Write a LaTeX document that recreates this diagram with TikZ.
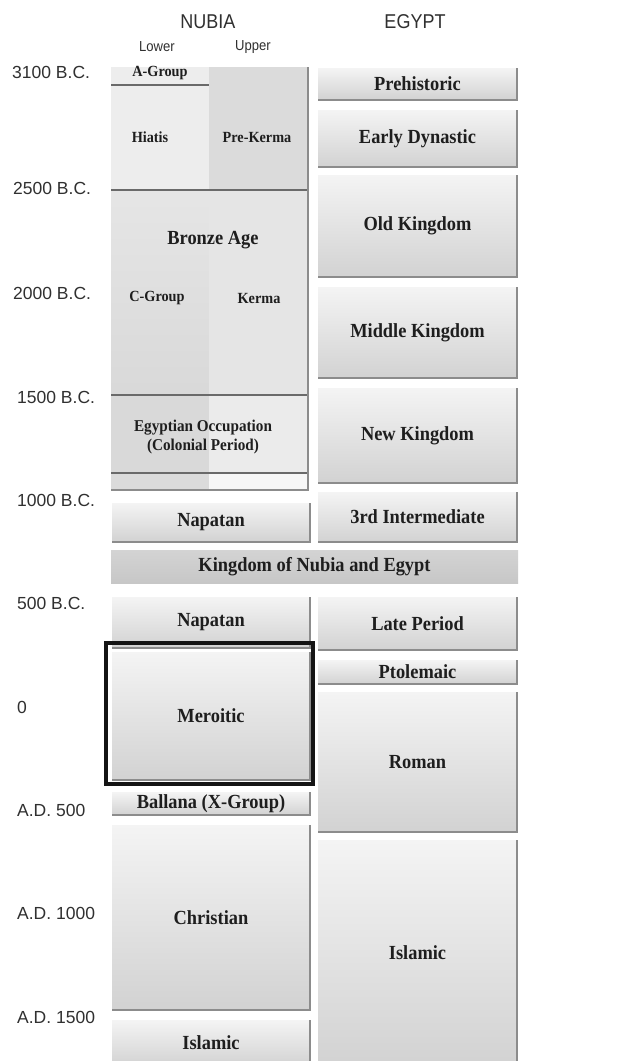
\documentclass[tikz,border=0pt]{standalone}
\usepackage{fontspec}
\setmainfont{Liberation Serif}
\setsansfont{Liberation Sans}
\newfontfamily\lblfont[FakeStretch=0.92]{Liberation Serif}
\newfontfamily\headfont[FakeStretch=0.9]{Liberation Sans}
\definecolor{boxtop}{HTML}{F4F4F4}
\definecolor{boxbot}{HTML}{D2D2D2}
\definecolor{shadowc}{HTML}{8C8C8C}
\definecolor{datec}{HTML}{303030}
\definecolor{lblc}{HTML}{1E1E1E}
\definecolor{sepc}{HTML}{6A6A6A}
\tikzset{
  pbox/.style={shape=rectangle, inner sep=0pt, outer sep=0pt, top color=boxtop, bottom color=boxbot, draw=none, font=\lblfont\bfseries\fontsize{20}{21}\selectfont, text=lblc},
  shadowedge/.style={draw=shadowc, line width=1.6pt},
  datelbl/.style={anchor=west, font=\sffamily\fontsize{17.5}{20}\selectfont, text=datec, inner sep=0pt},
  headlbl/.style={font=\headfont\fontsize{20}{22}\selectfont, text=datec, inner sep=0pt},
  sublbl/.style={font=\headfont\fontsize{14.5}{16}\selectfont, text=datec, inner sep=0pt},
  smalllbl/.style={font=\lblfont\bfseries\fontsize{15.5}{17}\selectfont, text=lblc, inner sep=0pt},
  midlbl/.style={font=\lblfont\bfseries\fontsize{20}{21}\selectfont, text=lblc, inner sep=0pt},
  sepline/.style={draw=sepc, line width=1.9pt},
  thinedge/.style={draw=shadowc, line width=1.2pt},
  meroframe/.style={draw=black!92, line width=3.2pt},
}
\newcommand\perbox[6]{%
  \node[pbox, minimum width={(#4-#2)*1pt}, minimum height={(#5-#3)*1pt}] (#1) at ({(#2+#4)/2},{(#3+#5)/2}) {#6};
  \draw[shadowedge] (#1.north east) -- (#1.south east) -- (#1.south west);
}
\begin{document}
\begin{tikzpicture}[x=1pt,y=-1pt]
\useasboundingbox[fill=white] (0,0) rectangle (617,1061);

% headings
\node[headlbl] (nubia) at (208,22) {NUBIA};
\node[headlbl] (egypt) at (415,22) {EGYPT};
\node[sublbl] (lower) at (157,47) {Lower};
\node[sublbl] (upper) at (253,47) {Upper};

% dates
\node[datelbl] (d3100) at (12,72) {3100 B.C.};
\node[datelbl] (d2500) at (13,188) {2500 B.C.};
\node[datelbl] (d2000) at (13,293) {2000 B.C.};
\node[datelbl] (d1500) at (17,397) {1500 B.C.};
\node[datelbl] (d1000) at (17,500) {1000 B.C.};
\node[datelbl] (d500) at (17,603) {500 B.C.};
\node[datelbl] (d0) at (17,707) {0};
\node[datelbl] (ad500) at (17,810) {A.D. 500};
\node[datelbl] (ad1000) at (17,913) {A.D. 1000};
\node[datelbl] (ad1500) at (17,1017) {A.D. 1500};

% Nubia early block
\fill[black!7] (111,67) rectangle (209,190);
\fill[black!14] (209,67) rectangle (308,190);
\shade[top color=black!10, bottom color=black!15] (111,190) rectangle (209,395);
\fill[black!10] (209,190) rectangle (308,395);
\fill[black!15] (111,395) rectangle (209,473);
\fill[black!8] (209,395) rectangle (308,473);
\fill[black!14] (111,473) rectangle (209,490);
\fill[black!3] (209,473) rectangle (308,490);
\draw[sepline] (111,85) -- (209,85);
\draw[sepline] (111,190) -- (308,190);
\draw[sepline] (111,395) -- (308,395);
\draw[sepline] (111,473) -- (308,473);
\draw[thinedge] (308,67) -- (308,490) -- (111,490);

\node[smalllbl] (agroup) at (160,73) {A-Group};
\node[smalllbl] (hiatis) at (150,137) {Hiatis};
\node[smalllbl] (prekerma) at (257,137) {Pre-Kerma};
\node[midlbl] (bronze) at (213,240) {Bronze Age};
\node[smalllbl] (cgroup) at (157,298) {C-Group};
\node[smalllbl] (kerma) at (259,298) {Kerma};
\node[font=\lblfont\bfseries\fontsize{16.5}{19}\selectfont, text=lblc, inner sep=0pt, align=center] (occup) at (203,437) {Egyptian Occupation\\(Colonial Period)};

% Egypt column
\perbox{pre}{318}{68}{517}{100}{Prehistoric}
\perbox{edyn}{318}{110}{517}{167}{Early Dynastic}
\perbox{oldk}{318}{175}{517}{277}{Old Kingdom}
\perbox{midk}{318}{287}{517}{378}{Middle Kingdom}
\perbox{newk}{318}{388}{517}{483}{New Kingdom}
\perbox{thirdi}{318}{492}{517}{542}{3rd Intermediate}
\perbox{latep}{318}{597}{517}{650}{Late Period}
\perbox{ptol}{318}{660}{517}{684}{Ptolemaic}
\perbox{roman}{318}{692}{517}{832}{Roman}
\perbox{islamE}{318}{840}{517}{1066}{Islamic}

% Nubia later
\perbox{napA}{112}{503}{310}{542}{Napatan}
\node[shape=rectangle, inner sep=0pt, outer sep=0pt, top color=black!17, bottom color=black!22, font=\lblfont\bfseries\fontsize{20}{21}\selectfont, text=lblc, minimum width=407pt, minimum height=33pt] (kingdom) at (314.5,566.5) {Kingdom of Nubia and Egypt};
\perbox{napB}{112}{597}{310}{648}{Napatan}
\perbox{mero}{112}{652}{310}{780}{Meroitic}
\perbox{ballana}{112}{792}{310}{815}{Ballana (X-Group)}
\perbox{christ}{112}{825}{310}{1010}{Christian}
\perbox{islamN}{112}{1020}{310}{1066}{Islamic}

\draw[meroframe] (106,643) rectangle (313,784);
\end{tikzpicture}
\end{document}
